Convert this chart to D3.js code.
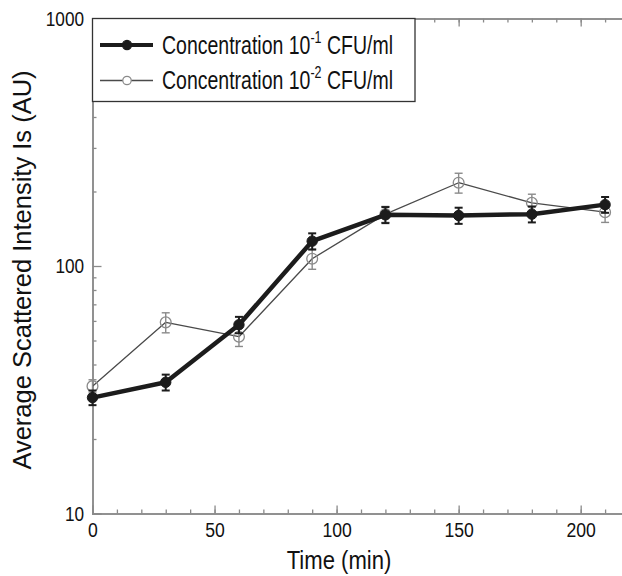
<!DOCTYPE html>
<html>
<head>
<meta charset="utf-8">
<script src="https://cdn.jsdelivr.net/npm/d3@7"></script>
<style>
  body { margin: 0; background: #fff; }
  svg { display: block; font-family: "Liberation Sans", Arial, sans-serif; }
</style>
</head>
<body>
<script>
// data
const times = [0, 30, 60, 90, 120, 150, 180, 210];
const conc1 = [29.4, 33.9, 57.9, 126, 161, 160, 162, 177];
const conc1Err = [2.0, 2.5, 4.4, 9.5, 12, 12, 12, 13];
const conc2 = [32.7, 59.2, 51.8, 107, 162, 217, 180, 165];
const conc2Err = [2.0, 5.5, 4.5, 10, 12, 20, 15, 15];
const xTicks = [0, 50, 100, 150, 200];
const xMinor = d3.range(0, 230, 10);
const yTicks = [10, 100, 1000];
const yMinor = [20, 30, 40, 50, 60, 70, 80, 90, 200, 300, 400, 500, 600, 700, 800, 900];
const seriesNames = ['1', '2'];

const width = 622, height = 576;
const axisColor = '#8a8a8a';

const svg = d3.select('body').append('svg')
    .attr('width', width)
    .attr('height', height);

const x = d3.scaleLinear().domain([0, 220]).range([92.5, 629.5]);
const y = d3.scaleLog().domain([10, 1000]).range([513.5, 18.5]);

// axes: ticks point inwards
function styleAxis(g) {
    g.select('.domain').attr('stroke', axisColor).attr('stroke-width', 1.5);
    g.selectAll('.tick line').attr('stroke', axisColor).attr('stroke-width', 1.3);
    g.selectAll('.tick text').attr('fill', '#111');
}

// minor ticks first
svg.append('g')
    .attr('transform', 'translate(0,513.5)')
    .call(d3.axisBottom(x).tickValues(xMinor).tickSize(-4).tickFormat(''))
    .call(styleAxis);
svg.append('g')
    .attr('transform', 'translate(0,18.5)')
    .call(d3.axisTop(x).tickValues(xMinor).tickSize(-4).tickFormat(''))
    .call(styleAxis);
svg.append('g')
    .attr('transform', 'translate(92.5,0)')
    .call(d3.axisLeft(y).tickValues(yMinor).tickSize(-4).tickFormat(''))
    .call(styleAxis);

// major ticks
const xAxis = svg.append('g')
    .attr('transform', 'translate(0,513.5)')
    .call(d3.axisBottom(x).tickValues(xTicks).tickSize(-8).tickPadding(9).tickFormat(d3.format('d')))
    .call(styleAxis);
xAxis.selectAll('.tick text')
    .style('font-size', '21px')
    .attr('transform', 'scale(0.84,1)');

svg.append('g')
    .attr('transform', 'translate(0,18.5)')
    .call(d3.axisTop(x).tickValues(xTicks).tickSize(-8).tickFormat(''))
    .call(styleAxis);

const yAxis = svg.append('g')
    .attr('transform', 'translate(92.5,0)')
    .call(d3.axisLeft(y).tickValues(yTicks).tickSize(-9).tickPadding(10).tickFormat(d3.format('d')))
    .call(styleAxis);
yAxis.selectAll('.tick text')
    .style('font-size', '20.5px')
    .attr('transform', 'scale(0.84,1)');

// axis titles
svg.append('text')
    .attr('transform', 'translate(339,569) scale(0.85,1)')
    .attr('text-anchor', 'middle')
    .style('font-size', '26px')
    .attr('fill', '#111')
    .text('Time (min)');

svg.append('text')
    .attr('transform', 'translate(31,270) rotate(-90)')
    .attr('text-anchor', 'middle')
    .style('font-size', '25.5px')
    .attr('fill', '#111')
    .text('Average Scattered Intensity Is (AU)');

// series
const series = [
    { key: seriesNames[0], vals: conc1, errs: conc1Err, line: '#1c1c1c', lw: 4.5, mark: '#1c1c1c', fill: '#1c1c1c', ew: 2, r: 5.2 },
    { key: seriesNames[1], vals: conc2, errs: conc2Err, line: '#4a4a4a', lw: 1.3, mark: '#8a8a8a', fill: 'none', ew: 1.4, r: 5.4 }
];

const line = d3.line()
    .x(d => x(d.t))
    .y(d => y(d.v));

// draw the open series first so the heavy one sits on top
series.slice().reverse().forEach(s => {
    const pts = times.map((t, i) => ({ t: t, v: s.vals[i], e: s.errs[i] }));
    const g = svg.append('g');

    g.append('path')
        .datum(pts)
        .attr('fill', 'none')
        .attr('stroke', s.line)
        .attr('stroke-width', s.lw)
        .attr('stroke-linejoin', 'round')
        .attr('d', line);

    const eb = g.selectAll('g.err')
        .data(pts)
        .join('g')
        .attr('class', 'err')
        .attr('stroke', s.mark)
        .attr('stroke-width', s.ew);
    eb.append('line')
        .attr('x1', d => x(d.t)).attr('x2', d => x(d.t))
        .attr('y1', d => y(d.v - d.e)).attr('y2', d => y(d.v + d.e));
    eb.append('line')
        .attr('x1', d => x(d.t) - 4).attr('x2', d => x(d.t) + 4)
        .attr('y1', d => y(d.v + d.e)).attr('y2', d => y(d.v + d.e));
    eb.append('line')
        .attr('x1', d => x(d.t) - 4).attr('x2', d => x(d.t) + 4)
        .attr('y1', d => y(d.v - d.e)).attr('y2', d => y(d.v - d.e));

    g.selectAll('circle')
        .data(pts)
        .join('circle')
        .attr('cx', d => x(d.t))
        .attr('cy', d => y(d.v))
        .attr('r', s.r)
        .attr('fill', s.fill)
        .attr('stroke', s.mark)
        .attr('stroke-width', s.fill === 'none' ? 1.3 : 1);
});

// legend box in the top-left corner
const legend = svg.append('g');
legend.append('rect')
    .attr('x', 92.5).attr('y', 18.5)
    .attr('width', 322.5).attr('height', 83)
    .attr('fill', '#fff')
    .attr('stroke', '#333')
    .attr('stroke-width', 1.3);

series.forEach((s, i) => {
    const cy = 45 + i * 35.5;
    const row = legend.append('g');
    row.append('line')
        .attr('x1', 100).attr('x2', 153)
        .attr('y1', cy).attr('y2', cy)
        .attr('stroke', s.line)
        .attr('stroke-width', i === 0 ? 4.2 : s.lw);
    row.append('circle')
        .attr('cx', 127).attr('cy', cy)
        .attr('r', i === 0 ? 4.6 : 4.2)
        .attr('fill', s.fill === 'none' ? '#fff' : s.fill)
        .attr('stroke', s.mark)
        .attr('stroke-width', 1.2);

    const t = row.append('text')
        .attr('transform', `translate(162,${cy + 8.5}) scale(0.78,1)`)
        .style('font-size', '25px')
        .attr('fill', '#111');
    t.append('tspan').text('Concentration 10');
    t.append('tspan')
        .attr('dy', -11)
        .style('font-size', '16px')
        .text('-' + s.key);
    t.append('tspan')
        .attr('dy', 11)
        .text(' CFU/ml');
});
</script>
</body>
</html>
